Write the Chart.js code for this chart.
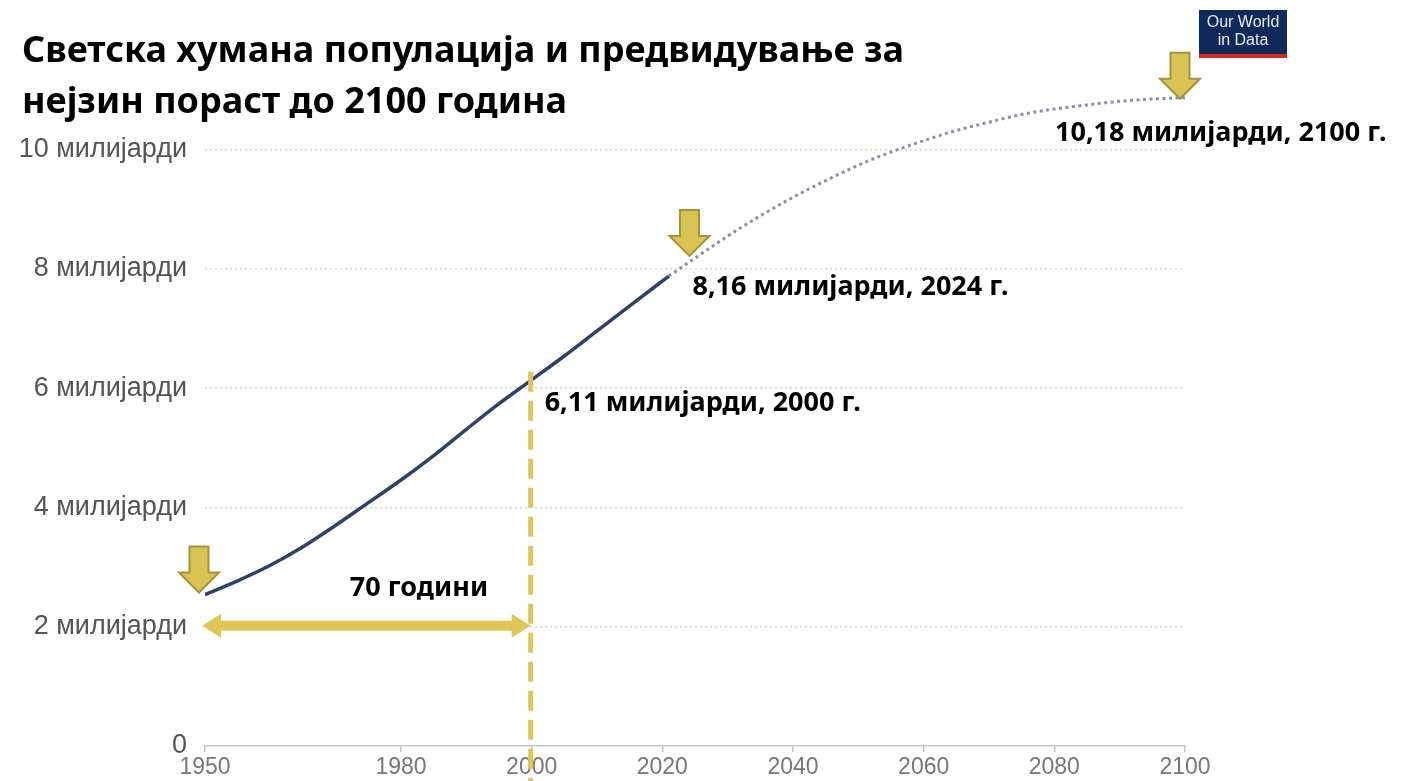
<!DOCTYPE html>
<html><head><meta charset="utf-8">
<script src="https://cdn.jsdelivr.net/npm/chart.js@4.4.1/dist/chart.umd.min.js"></script>
<style>html,body{margin:0;padding:0;background:#fff;}canvas{display:block;}</style>
</head><body>
<canvas id="c" width="1402" height="781"></canvas>
<script>
// ---- data ----
const TITLE_LINES = ['Светска хумана популација и предвидување за', 'нејзин пораст до 2100 година'];
const HIST_YEARS = [1950, 1955, 1960, 1965, 1970, 1975, 1980, 1985, 1990, 1995, 2000, 2005, 2010, 2015, 2021];
const HIST_POP   = [2.54, 2.77, 3.03, 3.34, 3.70, 4.08, 4.46, 4.87, 5.31, 5.74, 6.14, 6.54, 6.96, 7.38, 7.88];
const PROJ_YEARS = [2021, 2025, 2030, 2035, 2040, 2045, 2050, 2055, 2060, 2065, 2070, 2075, 2080, 2085, 2090, 2095, 2100];
const PROJ_POP   = [7.88, 8.18, 8.55, 8.89, 9.20, 9.48, 9.74, 9.96, 10.15, 10.32, 10.46, 10.59, 10.68, 10.75, 10.81, 10.85, 10.87];
const X_TICKS = [1950, 1980, 2000, 2020, 2040, 2060, 2080, 2100];
const Y_TICKS = [0, 2, 4, 6, 8, 10];
const Y_UNIT = 'милијарди';
const MARKER_YEARS = [1950, 2024, 2100];
const MARKER_POP   = [2.54, 8.10, 10.87];
const LABEL_TEXTS  = ['6,11 милијарди, 2000 г.', '8,16 милијарди, 2024 г.', '10,18 милијарди, 2100 г.'];
const SPAN_YEARS = [1950, 2000];
const SPAN_TEXT = '70 години';
const HIGHLIGHT_YEAR = 2000, HIGHLIGHT_POP = 6.14;
const LOGO_LINES = ['Our World', 'in Data'];

const GOLD = '#dec757';
const ARROW_FILL = '#d8c453', ARROW_STROKE = '#a3933a';

function downArrow(ctx, tx, ty) {
  ctx.beginPath();
  ctx.moveTo(tx - 9.5, ty - 46);
  ctx.lineTo(tx + 9.5, ty - 46);
  ctx.lineTo(tx + 9.5, ty - 20);
  ctx.lineTo(tx + 20, ty - 20);
  ctx.lineTo(tx, ty);
  ctx.lineTo(tx - 20, ty - 20);
  ctx.lineTo(tx - 9.5, ty - 20);
  ctx.closePath();
  ctx.fillStyle = ARROW_FILL; ctx.fill();
  ctx.lineWidth = 2; ctx.strokeStyle = ARROW_STROKE; ctx.stroke();
}

const annot = {
  id: 'annot',
  afterDraw(chart) {
    const ctx = chart.ctx, x = chart.scales.x, y = chart.scales.y;
    ctx.save();
    // title
    ctx.fillStyle = '#000';
    ctx.font = 'bold 36px "Noto Sans"';
    ctx.textBaseline = 'middle'; ctx.textAlign = 'left';
    ctx.fillText(TITLE_LINES[0], 22, 52);
    ctx.fillText(TITLE_LINES[1], 22, 103);
    // logo
    ctx.fillStyle = '#0f2a5a'; ctx.fillRect(1199, 10, 88, 48);
    ctx.fillStyle = '#d42b21'; ctx.fillRect(1199, 54, 88, 4);
    ctx.fillStyle = '#e8ecf2'; ctx.textAlign = 'center';
    ctx.font = '16px "Liberation Sans"';
    ctx.fillText(LOGO_LINES[0], 1243, 23);
    ctx.fillText(LOGO_LINES[1], 1243, 41);

    // double arrow span
    const ax1 = x.getPixelForValue(SPAN_YEARS[0]) - 3, ax2 = x.getPixelForValue(SPAN_YEARS[1]) - 1;
    const ay = y.getPixelForValue(2) - 1;
    ctx.fillStyle = GOLD;
    ctx.fillRect(ax1 + 15, ay - 5, ax2 - ax1 - 30, 10);
    ctx.beginPath(); ctx.moveTo(ax1, ay); ctx.lineTo(ax1 + 19, ay - 12); ctx.lineTo(ax1 + 19, ay + 12); ctx.closePath(); ctx.fill();
    ctx.beginPath(); ctx.moveTo(ax2, ay); ctx.lineTo(ax2 - 19, ay - 12); ctx.lineTo(ax2 - 19, ay + 12); ctx.closePath(); ctx.fill();

    // dashed vertical line
    const vx = x.getPixelForValue(HIGHLIGHT_YEAR) - 1;
    ctx.strokeStyle = GOLD; ctx.lineWidth = 5; ctx.setLineDash([20, 9]);
    ctx.beginPath(); ctx.moveTo(vx, y.getPixelForValue(HIGHLIGHT_POP) - 8); ctx.lineTo(vx, chart.height); ctx.stroke();
    ctx.setLineDash([]);

    // down arrows
    downArrow(ctx, x.getPixelForValue(MARKER_YEARS[0]) - 6, y.getPixelForValue(MARKER_POP[0]) - 2);
    downArrow(ctx, x.getPixelForValue(MARKER_YEARS[1]) + 1, y.getPixelForValue(MARKER_POP[1]) - 7);
    downArrow(ctx, x.getPixelForValue(MARKER_YEARS[2]) - 5, y.getPixelForValue(MARKER_POP[2]) + 1);

    // labels
    ctx.fillStyle = '#000';
    ctx.font = 'bold 27px "Noto Sans"';
    ctx.textAlign = 'center';
    const sx = x.getPixelForValue(SPAN_YEARS[0]) + (x.getPixelForValue(SPAN_YEARS[1]) - x.getPixelForValue(SPAN_YEARS[0])) * 0.655;
    ctx.fillText(SPAN_TEXT, sx, y.getPixelForValue(2.64));
    ctx.textAlign = 'left';
    ctx.fillText(LABEL_TEXTS[0], x.getPixelForValue(HIGHLIGHT_YEAR) + 13, y.getPixelForValue(HIGHLIGHT_POP) + 23);
    ctx.fillText(LABEL_TEXTS[1], x.getPixelForValue(MARKER_YEARS[1]) + 4, y.getPixelForValue(MARKER_POP[1]) + 24);
    ctx.fillText(LABEL_TEXTS[2], x.getPixelForValue(MARKER_YEARS[2]) - 130, y.getPixelForValue(MARKER_POP[2]) + 36);
    ctx.restore();
  }
};

new Chart(document.getElementById('c'), {
  type: 'line',
  data: {
    datasets: [
      { data: HIST_YEARS.map((yr, i) => ({ x: yr, y: HIST_POP[i] })), borderColor: '#2f4166', borderWidth: 3.5,
        pointRadius: 0, cubicInterpolationMode: 'monotone', fill: false },
      { data: PROJ_YEARS.map((yr, i) => ({ x: yr, y: PROJ_POP[i] })), borderColor: '#8792a8', borderWidth: 3,
        borderDash: [3, 3.5], pointRadius: 0, cubicInterpolationMode: 'monotone', fill: false }
    ]
  },
  options: {
    responsive: false, animation: false, devicePixelRatio: 1,
    layout: { padding: { top: 90, right: 217, left: 0, bottom: 0 } },
    plugins: { legend: { display: false }, tooltip: { enabled: false }, title: { display: false } },
    scales: {
      x: {
        type: 'linear', min: 1950, max: 2100,
        afterBuildTicks: s => { s.ticks = X_TICKS.map(v => ({ value: v })); },
        afterFit: s => { s.height = 35; },
        ticks: { color: '#777', font: { family: 'Liberation Sans', size: 23 }, padding: 2, maxRotation: 0,
                 autoSkip: false, callback: v => String(v) },
        grid: { drawOnChartArea: false, drawTicks: true, tickLength: 6, color: '#c4c4c4', lineWidth: 1.5 },
        border: { display: true, color: '#c4c4c4', width: 1.5 }
      },
      y: {
        min: 0, max: 11,
        afterBuildTicks: s => { s.ticks = Y_TICKS.map(v => ({ value: v })); },
        afterFit: s => { s.width = 205; },
        ticks: { color: '#555', font: { family: 'Liberation Sans', size: 27 }, padding: 18,
                 callback: v => v === 0 ? '0' : v + ' ' + Y_UNIT },
        grid: { drawTicks: false, lineWidth: 1.5,
                color: c => (c.tick && c.tick.value === 0) ? 'rgba(0,0,0,0)' : '#d4d4d4' },
        border: { display: false, dash: [2, 3] }
      }
    }
  },
  plugins: [annot]
});
</script>
</body></html>
